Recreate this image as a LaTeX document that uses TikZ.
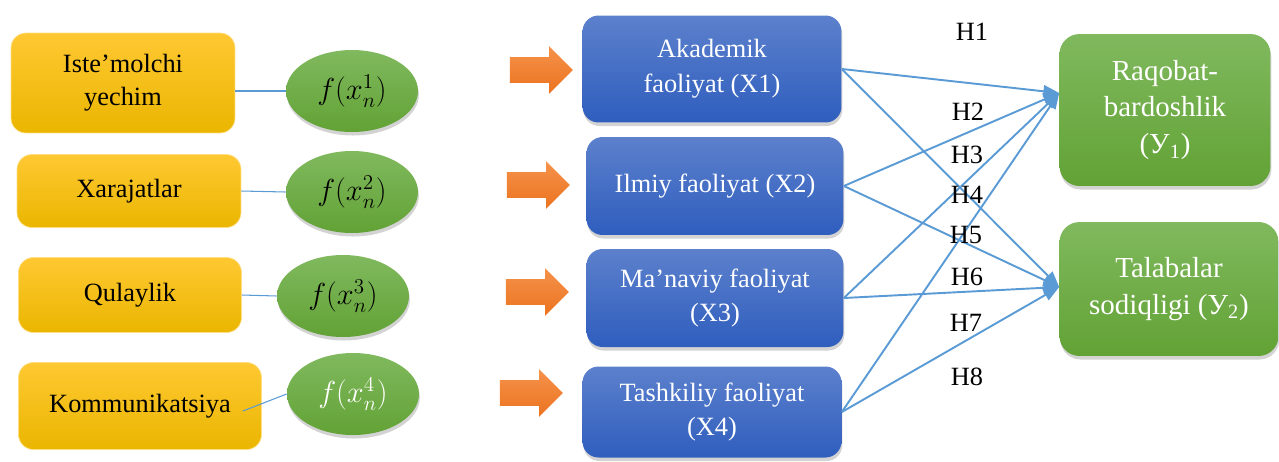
\documentclass[tikz,border=0pt]{standalone}
\usepackage{fontspec}
\setmainfont{Liberation Serif}
\usetikzlibrary{shapes.geometric,shapes.arrows,shadows,arrows.meta}
\definecolor{hyellow}{RGB}{255,200,50}
\definecolor{hyellow0}{RGB}{234,182,0}
\definecolor{hgreen}{RGB}{128,185,94}
\definecolor{hgreen0}{RGB}{98,162,53}
\definecolor{hblue}{RGB}{92,128,204}
\definecolor{hblue0}{RGB}{47,94,190}
\definecolor{horange}{RGB}{245,146,74}
\definecolor{horange0}{RGB}{235,115,32}
\definecolor{hlink}{RGB}{91,155,213}
\tikzset{
  inbox/.style={rounded corners=0.3cm, top color=hyellow, bottom color=hyellow0,
    draw=hyellow!60!white, align=center, font=\fontsize{15}{18.7}\selectfont},
  fbox/.style={ellipse, minimum width=2.64cm, minimum height=1.64cm, top color=hgreen,
    bottom color=hgreen0, drop shadow={opacity=0.35,shadow xshift=0.5pt,shadow yshift=-2pt},
    font=\fontsize{18}{20}\selectfont},
  push/.style={single arrow, single arrow head extend=0.22cm, minimum height=1.26cm,
    inner xsep=0pt, inner ysep=0.25cm, top color=horange, bottom color=horange0},
  actbox/.style={rounded corners=0.32cm, top color=hblue, bottom color=hblue0, text=white,
    drop shadow={opacity=0.35,shadow xshift=0.5pt,shadow yshift=-2pt},
    align=center, font=\fontsize{15}{19.8}\selectfont},
  resbox/.style={rounded corners=0.4cm, top color=hgreen, bottom color=hgreen0, text=white,
    drop shadow={opacity=0.35,shadow xshift=0.5pt,shadow yshift=-2pt},
    align=center, font=\fontsize{16.5}{21}\selectfont},
  feed/.style={hlink, line width=0.6pt},
  hyp/.style={hlink, line width=1.1pt, -{Triangle[length=9pt,width=7pt]}},
  hlab/.style={font=\fontsize{15}{18}\selectfont}
}

\begin{document}
\begin{tikzpicture}[x=0.02cm,y=-0.02cm]
\useasboundingbox (0,0) rectangle (1279,461);
% inputs
\node[inbox, minimum width=4.48cm, minimum height=2cm] (in1) at (123,83) {Iste’molchi\\yechim};
\node[inbox, minimum width=4.48cm, minimum height=1.46cm] (in2) at (129,191) {Xarajatlar};
\node[inbox, minimum width=4.46cm, minimum height=1.5cm] (in3) at (130,295) {Qulaylik};
\node[inbox, minimum width=4.86cm, minimum height=1.74cm] (in4) at (140,406) {Kommunikatsiya};
\node[fbox] (f1) at (352,91) {$f(x_n^1)$};
\node[fbox] (f2) at (352,192) {$f(x_n^2)$};
\node[fbox] (f3) at (343,296) {$f(x_n^3)$};
\node[fbox, text=white] (f4) at (353,394) {$f(x_n^4)$};
\draw[feed] (f1.west -| in1.east) -- (f1.west);
\draw[feed] (in2.east) -- (f2.west);
\draw[feed] (in3.east) -- (f3.west);
\draw[feed] ([xshift=-0.38cm,yshift=-0.1cm]in4.east) -- (f4.west);
% arrows
\node[push] (arr1) at (535,70) {};
\node[push] (arr2) at (532,185) {};
\node[push] (arr3) at (531,292) {};
\node[push] (arr4) at (525,393) {};
% activities
\node[actbox, minimum width=5.18cm, minimum height=2.14cm] (act1) at (712,69) {Akademik\\faoliyat (X1)};
\node[actbox, minimum width=5.14cm, minimum height=1.96cm] (act2) at (715,186) {Ilmiy faoliyat (X2)};
\node[actbox, minimum width=5.14cm, minimum height=1.96cm] (act3) at (715,298) {Ma’naviy faoliyat\\(X3)};
\node[actbox, minimum width=5.18cm, minimum height=1.82cm] (act4) at (712,412) {Tashkiliy faoliyat\\(X4)};
% results
\node[resbox, minimum width=4.22cm, minimum height=3.04cm] (res1) at (1165,110) {Raqobat-\\bardoshlik\\(У\textsubscript{1})};
\node[resbox, minimum width=4.38cm, minimum height=2.68cm] (res2) at (1169,289) {Talabalar\\sodiqligi (У\textsubscript{2})};
\coordinate (t1) at ([yshift=0.34cm]res1.west);
\coordinate (t2) at ([yshift=0.04cm]res2.west);
\draw[hyp] (act1.east) -- (t1);
\draw[hyp] (act1.east) -- (t2);
\draw[hyp] (act2.east) -- (t1);
\draw[hyp] (act2.east) -- (t2);
\draw[hyp] (act3.east) -- (t1);
\draw[hyp] (act3.east) -- (t2);
\draw[hyp] (act4.east) -- (t1);
\draw[hyp] (act4.east) -- (t2);
\node[hlab] (h1) at (972,32) {H1};
\node[hlab] (h2) at (968,112) {H2};
\node[hlab] (h3) at (967,155) {H3};
\node[hlab] (h4) at (967,195) {H4};
\node[hlab] (h5) at (966,235) {H5};
\node[hlab] (h6) at (967,277) {H6};
\node[hlab] (h7) at (966,323) {H7};
\node[hlab] (h8) at (967,377) {H8};
\end{tikzpicture}
\end{document}
